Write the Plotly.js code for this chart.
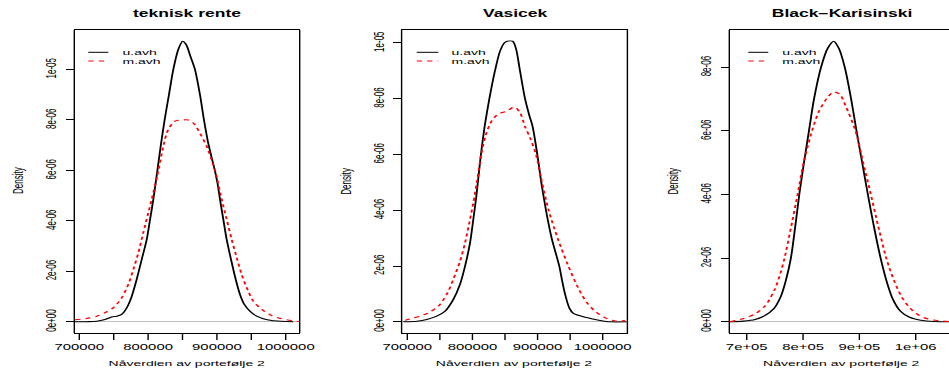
<!DOCTYPE html>
<html>
<head>
<meta charset="utf-8">
<script src="https://cdn.plot.ly/plotly-3.0.1.min.js"></script>
<style>
  html, body { margin: 0; padding: 0; overflow: hidden; background: #fff; width: 949px; height: 372px; }
  #wrap { width: 949px; height: 372px; overflow: hidden; position: relative; }
  #chart { position: absolute; left: 0; top: 0; transform-origin: 0 0; }
</style>
</head>
<body>
<div id="wrap"><div id="chart"></div></div>
<script>
// ---------------- DATA (density values in units of 1e-6) ----------------
const panelTitles = ["teknisk rente", "Vasicek", "Black\u2212Karisinski"];
const seriesNames = ["u.avh", "m.avh"];
const xAxisTitle = "N\u00e5verdien av portef\u00f8lje 2";
const yAxisTitle = "Density";

// teknisk rente
const tekU_x = [693700,710000,725300,737400,747100,754400,761600,768900,776200,783400,790700,798000,802800,807600,813500,818500,824000,830300,836600,843900,850200,855000,861800,868100,875400,881200,888000,897000,900800,904500,909300,914200,920500,927300,933600,939800,948100,957800,967400,979700,994200,1011000];
const tekU_y = [0,0.005,0.02,0.09,0.19,0.22,0.29,0.55,1.01,1.68,2.47,3.26,4.05,4.85,6.0,7.0,8.0,9.0,10.0,10.8,11.12,11.0,10.5,10.0,9.0,8.0,7.0,6.0,5.5,4.85,4.06,3.26,2.47,1.68,1.08,0.69,0.42,0.22,0.12,0.05,0.02,0];
const tekM_x = [693700,710700,725300,737400,749400,761600,771200,778500,785800,793000,800300,805200,815000,822500,829000,839000,850200,858400,866700,876800,886000,897200,907000,914200,921500,928800,936000,943300,952900,965100,979700,994200,1010000,1019300];
const tekM_y = [0.08,0.13,0.22,0.36,0.55,0.95,1.48,2.07,2.73,3.53,4.32,4.85,6.0,7.0,7.6,7.95,8.0,8.0,7.85,7.4,6.9,6.0,4.85,4.06,3.26,2.54,1.87,1.35,0.82,0.49,0.25,0.12,0.04,0.01];

// Vasicek
const vasU_x = [693900,715000,729800,745100,757900,770600,780900,788600,796300,801300,806000,813000,818700,826000,834600,842300,848900,853500,861700,866800,873000,880700,887300,892400,899600,905700,912900,921600,933300,937500,942100,948700,954900,975400,995900,1011200,1036800];
const vasU_y = [0,0.02,0.08,0.2,0.38,0.8,1.34,1.99,2.83,3.67,4.5,6.0,7.0,8.0,9.0,9.7,10.0,10.06,10.06,9.8,9.0,8.0,7.4,7.0,6.0,5.0,4.0,3.0,2.0,1.5,1.0,0.5,0.3,0.15,0.05,0,0];
const vasM_x = [696400,705000,719500,732200,747600,760500,770600,780900,788600,796300,801300,806800,813500,820500,829500,839700,852500,864300,873000,880700,888400,897600,906800,917000,930800,947200,962600,975300,989700,1006100,1018900,1034200];
const vasM_y = [0.05,0.11,0.2,0.32,0.56,0.98,1.52,2.17,2.83,3.67,4.26,5.0,6.0,6.7,7.2,7.45,7.55,7.7,7.5,7.0,6.6,6.0,5.0,4.0,3.0,2.0,1.2,0.7,0.35,0.12,0.03,0.04];

// Black-Karisinski
const bkU_x = [670300,694100,714900,732700,747500,760600,769500,778400,786200,793300,801600,810500,819400,831900,843800,854500,863400,874100,885400,894900,905000,915100,925800,937700,949600,959700,972100,988200,1008900,1032800,1059500];
const bkU_y = [0,0.02,0.07,0.2,0.4,0.8,1.3,2.0,3.0,4.0,5.0,6.0,7.0,8.0,8.6,8.82,8.6,8.0,7.0,6.0,5.0,4.0,3.0,2.0,1.2,0.7,0.35,0.15,0.05,0.01,0];
const bkM_x = [670300,694100,714900,732700,749300,759400,767100,779000,790300,801000,815900,827800,841400,854500,865200,875300,893100,906800,920400,933500,947800,961400,974500,988800,1006000,1023800,1041700,1059500];
const bkM_y = [0,0.1,0.25,0.5,1.0,1.5,2.0,3.0,4.0,5.0,6.0,6.6,7.0,7.23,7.15,6.8,6.0,5.0,4.0,3.0,2.0,1.3,0.8,0.45,0.2,0.08,0.03,0.01];

// tick labels
const xTickVals12 = [700000,750000,800000,850000,900000,950000,1000000];
const xTickText12 = ["700000","","800000","","900000","","1000000"];
const xTickVals3 = [700000,800000,900000,1000000];
const xTickText3 = ["7e+05","8e+05","9e+05","1e+06"];
const yTickVals12 = [0,2e-6,4e-6,6e-6,8e-6,1e-5];
const yTickText12 = ["0e+00","2e-06","4e-06","6e-06","8e-06","1e-05"];
const yTickVals3 = [0,2e-6,4e-6,6e-6,8e-6];
const yTickText3 = ["0e+00","2e-06","4e-06","6e-06","8e-06"];

// ---------------- LAYOUT ----------------
const S = 1.75;             // horizontal stretch of the reference image
const VW = 546, VH = 372;   // virtual plot size
const REFW = VW * S;
const FONT = "Liberation Sans, Arial, Helvetica, sans-serif";
const toE = a => a.map(v => v * 1e-6);

const panels = [
  {ux: tekU_x, uy: tekU_y, mx: tekM_x, my: tekM_y, px: [75, 299], xr: [693750, 1019300], ymax: 11.12e-6,
   tv: xTickVals12, tt: xTickText12, yv: yTickVals12, yt: yTickText12, dens: 17.5, leg: [88.3, 108.3, 119.3]},
  {ux: vasU_x, uy: vasU_y, mx: vasM_x, my: vasM_y, px: [402.3, 626.7], xr: [692300, 1036850], ymax: 10.06e-6,
   tv: xTickVals12, tt: xTickText12, yv: yTickVals12, yt: yTickText12, dens: 346, leg: [416.7, 438.3, 448.3]},
  {ux: bkU_x, uy: bkU_y, mx: bkM_x, my: bkM_y, px: [730, 954], xr: [670300, 1068000], ymax: 8.82e-6,
   tv: xTickVals3, tt: xTickText3, yv: yTickVals3, yt: yTickText3, dens: 673, leg: [748.3, 768.3, 778.3]}
];

const yTop = 30, yBot = 333;
const traces = [], annotations = [], shapes = [];
const layout = {
  width: VW, height: VH,
  margin: {l: 0, r: 0, t: 0, b: 0},
  paper_bgcolor: "#fff", plot_bgcolor: "#fff",
  showlegend: false,
  font: {family: FONT, color: "#000", size: 8}
};

panels.forEach((p, i) => {
  const n = i === 0 ? "" : String(i + 1);
  const xa = "x" + n, ya = "y" + n;
  traces.push({x: p.ux, y: toE(p.uy), xaxis: xa, yaxis: ya, type: "scatter", mode: "lines", name: seriesNames[0],
    line: {color: "#000", width: 1.05, shape: "spline", smoothing: 0.8}, hoverinfo: "skip"});
  traces.push({x: p.mx, y: toE(p.my), xaxis: xa, yaxis: ya, type: "scatter", mode: "lines", name: seriesNames[1],
    line: {color: "#ff0000", width: 1.1, dash: "3px,3px", shape: "spline", smoothing: 0.8}, hoverinfo: "skip"});

  layout["xaxis" + n] = {
    domain: [p.px[0] / REFW, p.px[1] / REFW], range: p.xr, anchor: ya,
    tickmode: "array", tickvals: p.tv, ticktext: p.tt,
    ticks: "outside", ticklen: 6, tickwidth: 0.8, tickcolor: "#000",
    showline: true, linecolor: "#000", linewidth: 1, mirror: true,
    showgrid: false, zeroline: false, fixedrange: true,
    tickfont: {family: FONT, size: 8.5, color: "#000"}
  };
  layout["yaxis" + n] = {
    domain: [(VH - yBot) / VH, (VH - yTop) / VH], range: [-0.04 * p.ymax, 1.04 * p.ymax], anchor: xa,
    tickmode: "array", tickvals: p.yv, ticktext: p.yt, tickangle: -90,
    ticks: "outside", ticklen: 4.6, tickwidth: 1, tickcolor: "#000",
    ticklabelstandoff: 2,
    showline: true, linecolor: "#000", linewidth: 0.8, mirror: true,
    showgrid: false, zeroline: true, zerolinecolor: "#bebebe", zerolinewidth: 1, fixedrange: true,
    tickfont: {family: FONT, size: 8, color: "#000"}
  };

  // titles
  annotations.push({text: panelTitles[i], xref: xa + " domain", x: 0.5, yref: "paper", y: (VH - 14) / VH,
    xanchor: "center", yanchor: "middle", showarrow: false,
    font: {family: FONT, size: 10, weight: "bold", color: "#000"}});
  annotations.push({text: xAxisTitle, xref: xa + " domain", x: 0.5, yref: "paper", y: (VH - 363) / VH,
    xanchor: "center", yanchor: "middle", showarrow: false, font: {family: FONT, size: 8, color: "#000"}});
  annotations.push({text: yAxisTitle, xref: "paper", x: p.dens / REFW, yref: "paper", y: (VH - 181) / VH,
    xanchor: "center", yanchor: "middle", textangle: -90, showarrow: false, font: {family: FONT, size: 8, color: "#000"}});

  // legend (drawn inside the panel, top-left)
  const w = p.px[1] - p.px[0];
  const lx0 = (p.leg[0] - p.px[0]) / w, lx1 = (p.leg[1] - p.px[0]) / w, tx = (p.leg[2] - p.px[0]) / w;
  const ly = [(yBot - 52.3) / (yBot - yTop), (yBot - 61) / (yBot - yTop)];
  shapes.push({type: "line", xref: xa + " domain", yref: ya + " domain", x0: lx0, x1: lx1, y0: ly[0], y1: ly[0],
    line: {color: "#000", width: 1}});
  shapes.push({type: "line", xref: xa + " domain", yref: ya + " domain", x0: lx0, x1: lx1, y0: ly[1], y1: ly[1],
    line: {color: "#ff0000", width: 1, dash: "3px,3px"}});
  seriesNames.forEach((s, k) => {
    annotations.push({text: s, xref: xa + " domain", x: tx, yref: ya + " domain", y: ly[k],
      xanchor: "left", yanchor: "middle", showarrow: false, font: {family: FONT, size: 8, color: "#000"}});
  });
});

layout.annotations = annotations;
layout.shapes = shapes;

const el = document.getElementById("chart");
el.style.width = VW + "px";
el.style.height = VH + "px";
el.style.transform = "scaleX(" + S + ")";
Plotly.newPlot(el, traces, layout, {staticPlot: true, displayModeBar: false});
</script>
</body>
</html>
